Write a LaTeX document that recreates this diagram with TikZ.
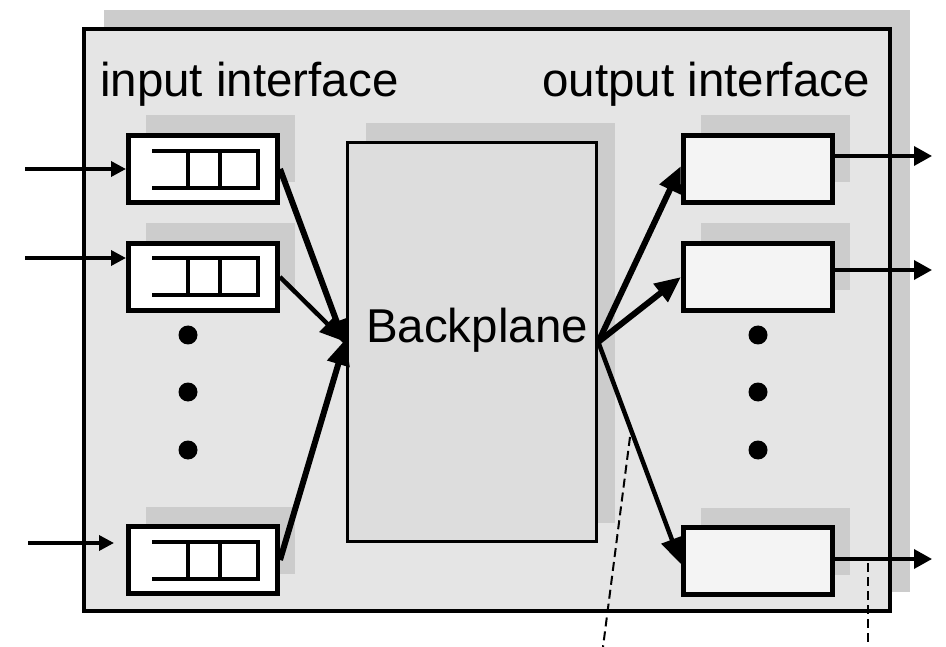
\documentclass[tikz,border=0pt]{standalone}
\usepackage{fontspec}
\setmainfont{Liberation Sans}
\usetikzlibrary{arrows.meta,shadows}
\definecolor{bgfill}{gray}{0.898}
\definecolor{shadefill}{gray}{0.80}
\definecolor{bpfill}{gray}{0.865}
\definecolor{outfill}{gray}{0.957}
\begin{document}
\begin{tikzpicture}[x=1pt,y=-1pt,
  shd/.style={drop shadow={shadow xshift=#1, shadow yshift=20pt, fill=shadefill, opacity=1}},
  ifbox/.style={draw, line width=5pt, minimum width=149pt, minimum height=67pt, inner sep=0pt, shd=17pt},
  inbox/.style={ifbox, fill=white},
  outbox/.style={ifbox, fill=outfill},
  qline/.style={line width=4pt},
  feed/.style={line width=3.5pt, -{Triangle[length=15pt,width=15pt]}},
  thick/.style={line width=6pt, -{Triangle[length=26pt,width=22pt]}},
  outarr/.style={line width=3.5pt, -{Triangle[length=18pt,width=19pt]}},
  dashline/.style={line width=2pt, dash pattern=on 9pt off 5pt},
  lbl/.style={inner sep=0pt, font=\fontsize{47.5}{52}\selectfont},
  dotmark/.style={circle, fill=black, minimum size=19pt, inner sep=0pt}
]
\useasboundingbox (0,0) rectangle (946,647);

% outer router box
\node[draw, line width=4.5pt, fill=bgfill, minimum width=806pt, minimum height=582pt,
      drop shadow={shadow xshift=20pt, shadow yshift=19pt, fill=shadefill, opacity=1}] (router) at (487,320) {};

% backplane
\node[draw, line width=3.5pt, fill=bpfill, minimum width=249pt, minimum height=399pt,
      drop shadow={shadow xshift=18pt, shadow yshift=19pt, fill=shadefill, opacity=1}] (bp) at (472,342) {};
\node[lbl, anchor=base] (bplabel) at (477,342) {Backplane};

% labels
\node[lbl, anchor=base west] (inlabel) at (100,97) {input interface};
\node[lbl, anchor=base east] (outlabel) at (870,97) {output interface};

% input boxes
\node[inbox] (in1) at (203,169) {};
\node[inbox] (in2) at (203,277) {};
\node[inbox] (in3) at (203,560) {};

% queues
\foreach \b/\yy in {in1/169, in2/276, in3/560}{
  \begin{scope}[shift={(203,\yy)}]
    \draw[qline] (-51,-18) -- (55,-18) -- (55,19) -- (-51,19);
    \draw[qline] (-15,-18) -- (-15,19);
    \draw[qline] (17,-18) -- (17,19);
  \end{scope}
}

% output boxes
\node[outbox] (out1) at (758,169) {};
\node[outbox] (out2) at (758,277) {};
\node[outbox] (out3) at (758,561) {};

% dots
\node[dotmark] (ld1) at (188,335) {};
\node[dotmark] (ld2) at (188,392) {};
\node[dotmark] (ld3) at (188,450) {};
\node[dotmark] (rd1) at (758,335) {};
\node[dotmark] (rd2) at (758,392) {};
\node[dotmark] (rd3) at (758,450) {};

% input feed arrows
\coordinate (a1) at (25,169);
\coordinate (a2) at (25,258);
\coordinate (a3) at (28,543);
\draw[feed] (a1) -- (a1 -| in1.west);
\draw[feed] (a2) -- (a2 -| in2.west);
\draw[feed, shorten >=12pt] (a3) -- (a3 -| in3.west);

% to backplane
\draw[thick] (in1.east) -- ([yshift=-4pt]bp.west);
\draw[thick, line width=4.5pt] (in2.east) -- (bp.west);
\draw[thick] (in3.east) -- ([yshift=3pt]bp.west);

% from backplane
\draw[thick] (bp.east) -- ([yshift=3pt]out1.west);
\draw[thick] (bp.east) -- (out2.west);
\draw[thick, line width=4.5pt] (bp.east) -- ([yshift=-3pt]out3.west);

% output arrows
\coordinate (o1) at (932,156);
\coordinate (o2) at (932,270);
\coordinate (o3) at (932,559);
\draw[outarr] (o1 -| out1.east) -- (o1);
\draw[outarr] (o2 -| out2.east) -- (o2);
\draw[outarr] (o3 -| out3.east) -- (o3);

% dashed callout lines
\coordinate (d1a) at (630,437);
\coordinate (d1b) at (603,647);
\coordinate (d2a) at (868,563);
\coordinate (d2b) at (868,647);
\draw[dashline] (d1a) -- (d1b);
\draw[dashline] (d2a) -- (d2b);
\end{tikzpicture}
\end{document}
